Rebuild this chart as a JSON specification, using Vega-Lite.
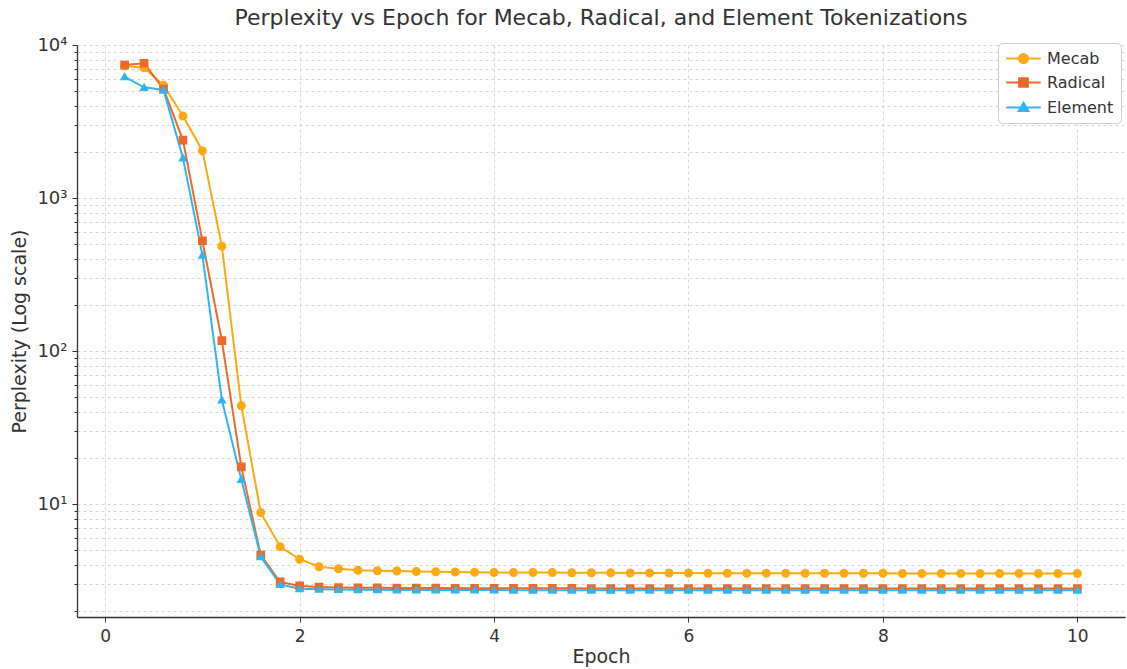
{
  "$schema": "https://vega.github.io/schema/vega-lite/v6.json",
  "width": 1048,
  "height": 572,
  "autosize": "none",
  "padding": {"left": 77, "top": 45, "right": 2, "bottom": 52},
  "background": "white",
  "title": {"text": "Perplexity vs Epoch for Mecab, Radical, and Element Tokenizations", "fontSize": 22, "font": "DejaVu Sans", "fontWeight": "normal", "color": "#333333", "anchor": "middle", "offset": 6},
  "config": {"view": {"stroke": null}, "font": "DejaVu Sans"},
  "datasets": {
    "d": [
      {"epoch": 0.2, "perplexity": 7300, "model": "Mecab"},
      {"epoch": 0.4, "perplexity": 7100, "model": "Mecab"},
      {"epoch": 0.6, "perplexity": 5450, "model": "Mecab"},
      {"epoch": 0.8, "perplexity": 3440, "model": "Mecab"},
      {"epoch": 1.0, "perplexity": 2040, "model": "Mecab"},
      {"epoch": 1.2, "perplexity": 485, "model": "Mecab"},
      {"epoch": 1.4, "perplexity": 44, "model": "Mecab"},
      {"epoch": 1.6, "perplexity": 8.8, "model": "Mecab"},
      {"epoch": 1.8, "perplexity": 5.26, "model": "Mecab"},
      {"epoch": 2.0, "perplexity": 4.37, "model": "Mecab"},
      {"epoch": 2.2, "perplexity": 3.9, "model": "Mecab"},
      {"epoch": 2.4, "perplexity": 3.78, "model": "Mecab"},
      {"epoch": 2.6, "perplexity": 3.7, "model": "Mecab"},
      {"epoch": 2.8, "perplexity": 3.67, "model": "Mecab"},
      {"epoch": 3.0, "perplexity": 3.65, "model": "Mecab"},
      {"epoch": 3.2, "perplexity": 3.63, "model": "Mecab"},
      {"epoch": 3.4, "perplexity": 3.61, "model": "Mecab"},
      {"epoch": 3.6, "perplexity": 3.6, "model": "Mecab"},
      {"epoch": 3.8, "perplexity": 3.59, "model": "Mecab"},
      {"epoch": 4.0, "perplexity": 3.58, "model": "Mecab"},
      {"epoch": 4.2, "perplexity": 3.58, "model": "Mecab"},
      {"epoch": 4.4, "perplexity": 3.57, "model": "Mecab"},
      {"epoch": 4.6, "perplexity": 3.57, "model": "Mecab"},
      {"epoch": 4.8, "perplexity": 3.56, "model": "Mecab"},
      {"epoch": 5.0, "perplexity": 3.56, "model": "Mecab"},
      {"epoch": 5.2, "perplexity": 3.56, "model": "Mecab"},
      {"epoch": 5.4, "perplexity": 3.55, "model": "Mecab"},
      {"epoch": 5.6, "perplexity": 3.55, "model": "Mecab"},
      {"epoch": 5.8, "perplexity": 3.55, "model": "Mecab"},
      {"epoch": 6.0, "perplexity": 3.55, "model": "Mecab"},
      {"epoch": 6.2, "perplexity": 3.54, "model": "Mecab"},
      {"epoch": 6.4, "perplexity": 3.54, "model": "Mecab"},
      {"epoch": 6.6, "perplexity": 3.54, "model": "Mecab"},
      {"epoch": 6.8, "perplexity": 3.54, "model": "Mecab"},
      {"epoch": 7.0, "perplexity": 3.53, "model": "Mecab"},
      {"epoch": 7.2, "perplexity": 3.53, "model": "Mecab"},
      {"epoch": 7.4, "perplexity": 3.53, "model": "Mecab"},
      {"epoch": 7.6, "perplexity": 3.53, "model": "Mecab"},
      {"epoch": 7.8, "perplexity": 3.53, "model": "Mecab"},
      {"epoch": 8.0, "perplexity": 3.53, "model": "Mecab"},
      {"epoch": 8.2, "perplexity": 3.52, "model": "Mecab"},
      {"epoch": 8.4, "perplexity": 3.52, "model": "Mecab"},
      {"epoch": 8.6, "perplexity": 3.52, "model": "Mecab"},
      {"epoch": 8.8, "perplexity": 3.52, "model": "Mecab"},
      {"epoch": 9.0, "perplexity": 3.52, "model": "Mecab"},
      {"epoch": 9.2, "perplexity": 3.52, "model": "Mecab"},
      {"epoch": 9.4, "perplexity": 3.52, "model": "Mecab"},
      {"epoch": 9.6, "perplexity": 3.52, "model": "Mecab"},
      {"epoch": 9.8, "perplexity": 3.52, "model": "Mecab"},
      {"epoch": 10.0, "perplexity": 3.52, "model": "Mecab"},
      {"epoch": 0.2, "perplexity": 7400, "model": "Radical"},
      {"epoch": 0.4, "perplexity": 7600, "model": "Radical"},
      {"epoch": 0.6, "perplexity": 5150, "model": "Radical"},
      {"epoch": 0.8, "perplexity": 2390, "model": "Radical"},
      {"epoch": 1.0, "perplexity": 526, "model": "Radical"},
      {"epoch": 1.2, "perplexity": 117, "model": "Radical"},
      {"epoch": 1.4, "perplexity": 17.5, "model": "Radical"},
      {"epoch": 1.6, "perplexity": 4.64, "model": "Radical"},
      {"epoch": 1.8, "perplexity": 3.1, "model": "Radical"},
      {"epoch": 2.0, "perplexity": 2.92, "model": "Radical"},
      {"epoch": 2.2, "perplexity": 2.87, "model": "Radical"},
      {"epoch": 2.4, "perplexity": 2.85, "model": "Radical"},
      {"epoch": 2.6, "perplexity": 2.84, "model": "Radical"},
      {"epoch": 2.8, "perplexity": 2.84, "model": "Radical"},
      {"epoch": 3.0, "perplexity": 2.83, "model": "Radical"},
      {"epoch": 3.2, "perplexity": 2.83, "model": "Radical"},
      {"epoch": 3.4, "perplexity": 2.83, "model": "Radical"},
      {"epoch": 3.6, "perplexity": 2.82, "model": "Radical"},
      {"epoch": 3.8, "perplexity": 2.82, "model": "Radical"},
      {"epoch": 4.0, "perplexity": 2.82, "model": "Radical"},
      {"epoch": 4.2, "perplexity": 2.82, "model": "Radical"},
      {"epoch": 4.4, "perplexity": 2.82, "model": "Radical"},
      {"epoch": 4.6, "perplexity": 2.82, "model": "Radical"},
      {"epoch": 4.8, "perplexity": 2.82, "model": "Radical"},
      {"epoch": 5.0, "perplexity": 2.81, "model": "Radical"},
      {"epoch": 5.2, "perplexity": 2.81, "model": "Radical"},
      {"epoch": 5.4, "perplexity": 2.81, "model": "Radical"},
      {"epoch": 5.6, "perplexity": 2.81, "model": "Radical"},
      {"epoch": 5.8, "perplexity": 2.81, "model": "Radical"},
      {"epoch": 6.0, "perplexity": 2.81, "model": "Radical"},
      {"epoch": 6.2, "perplexity": 2.81, "model": "Radical"},
      {"epoch": 6.4, "perplexity": 2.81, "model": "Radical"},
      {"epoch": 6.6, "perplexity": 2.81, "model": "Radical"},
      {"epoch": 6.8, "perplexity": 2.81, "model": "Radical"},
      {"epoch": 7.0, "perplexity": 2.81, "model": "Radical"},
      {"epoch": 7.2, "perplexity": 2.81, "model": "Radical"},
      {"epoch": 7.4, "perplexity": 2.81, "model": "Radical"},
      {"epoch": 7.6, "perplexity": 2.81, "model": "Radical"},
      {"epoch": 7.8, "perplexity": 2.81, "model": "Radical"},
      {"epoch": 8.0, "perplexity": 2.81, "model": "Radical"},
      {"epoch": 8.2, "perplexity": 2.81, "model": "Radical"},
      {"epoch": 8.4, "perplexity": 2.81, "model": "Radical"},
      {"epoch": 8.6, "perplexity": 2.81, "model": "Radical"},
      {"epoch": 8.8, "perplexity": 2.81, "model": "Radical"},
      {"epoch": 9.0, "perplexity": 2.81, "model": "Radical"},
      {"epoch": 9.2, "perplexity": 2.81, "model": "Radical"},
      {"epoch": 9.4, "perplexity": 2.81, "model": "Radical"},
      {"epoch": 9.6, "perplexity": 2.81, "model": "Radical"},
      {"epoch": 9.8, "perplexity": 2.81, "model": "Radical"},
      {"epoch": 10.0, "perplexity": 2.81, "model": "Radical"},
      {"epoch": 0.2, "perplexity": 6200, "model": "Element"},
      {"epoch": 0.4, "perplexity": 5290, "model": "Element"},
      {"epoch": 0.6, "perplexity": 5080, "model": "Element"},
      {"epoch": 0.8, "perplexity": 1830, "model": "Element"},
      {"epoch": 1.0, "perplexity": 424, "model": "Element"},
      {"epoch": 1.2, "perplexity": 48, "model": "Element"},
      {"epoch": 1.4, "perplexity": 14.5, "model": "Element"},
      {"epoch": 1.6, "perplexity": 4.53, "model": "Element"},
      {"epoch": 1.8, "perplexity": 2.99, "model": "Element"},
      {"epoch": 2.0, "perplexity": 2.8, "model": "Element"},
      {"epoch": 2.2, "perplexity": 2.78, "model": "Element"},
      {"epoch": 2.4, "perplexity": 2.77, "model": "Element"},
      {"epoch": 2.6, "perplexity": 2.76, "model": "Element"},
      {"epoch": 2.8, "perplexity": 2.76, "model": "Element"},
      {"epoch": 3.0, "perplexity": 2.75, "model": "Element"},
      {"epoch": 3.2, "perplexity": 2.75, "model": "Element"},
      {"epoch": 3.4, "perplexity": 2.75, "model": "Element"},
      {"epoch": 3.6, "perplexity": 2.75, "model": "Element"},
      {"epoch": 3.8, "perplexity": 2.75, "model": "Element"},
      {"epoch": 4.0, "perplexity": 2.75, "model": "Element"},
      {"epoch": 4.2, "perplexity": 2.74, "model": "Element"},
      {"epoch": 4.4, "perplexity": 2.74, "model": "Element"},
      {"epoch": 4.6, "perplexity": 2.74, "model": "Element"},
      {"epoch": 4.8, "perplexity": 2.74, "model": "Element"},
      {"epoch": 5.0, "perplexity": 2.74, "model": "Element"},
      {"epoch": 5.2, "perplexity": 2.74, "model": "Element"},
      {"epoch": 5.4, "perplexity": 2.74, "model": "Element"},
      {"epoch": 5.6, "perplexity": 2.74, "model": "Element"},
      {"epoch": 5.8, "perplexity": 2.74, "model": "Element"},
      {"epoch": 6.0, "perplexity": 2.74, "model": "Element"},
      {"epoch": 6.2, "perplexity": 2.74, "model": "Element"},
      {"epoch": 6.4, "perplexity": 2.74, "model": "Element"},
      {"epoch": 6.6, "perplexity": 2.74, "model": "Element"},
      {"epoch": 6.8, "perplexity": 2.74, "model": "Element"},
      {"epoch": 7.0, "perplexity": 2.74, "model": "Element"},
      {"epoch": 7.2, "perplexity": 2.74, "model": "Element"},
      {"epoch": 7.4, "perplexity": 2.74, "model": "Element"},
      {"epoch": 7.6, "perplexity": 2.74, "model": "Element"},
      {"epoch": 7.8, "perplexity": 2.74, "model": "Element"},
      {"epoch": 8.0, "perplexity": 2.74, "model": "Element"},
      {"epoch": 8.2, "perplexity": 2.74, "model": "Element"},
      {"epoch": 8.4, "perplexity": 2.74, "model": "Element"},
      {"epoch": 8.6, "perplexity": 2.74, "model": "Element"},
      {"epoch": 8.8, "perplexity": 2.74, "model": "Element"},
      {"epoch": 9.0, "perplexity": 2.74, "model": "Element"},
      {"epoch": 9.2, "perplexity": 2.74, "model": "Element"},
      {"epoch": 9.4, "perplexity": 2.74, "model": "Element"},
      {"epoch": 9.6, "perplexity": 2.74, "model": "Element"},
      {"epoch": 9.8, "perplexity": 2.74, "model": "Element"},
      {"epoch": 10.0, "perplexity": 2.74, "model": "Element"}
    ]
  },
  "data": {"name": "d"},
  "encoding": {
    "x": {
      "field": "epoch", "type": "quantitative",
      "scale": {"domain": [-0.29, 10.49], "nice": false, "zero": false},
      "axis": {
        "values": [0, 2, 4, 6, 8, 10], "title": "Epoch", "format": "d",
        "labelFontSize": 17, "labelColor": "#333333", "titleFontSize": 19, "titleFontWeight": "normal", "titleColor": "#333333",
        "domainColor": "#333333", "domainWidth": 1.3, "tickColor": "#333333", "tickSize": 5, "labelPadding": 6, "titlePadding": 3,
        "gridColor": "#cccccc", "gridDash": [3, 3], "gridWidth": 0.8
      }
    },
    "y": {
      "field": "perplexity", "type": "quantitative",
      "scale": {"type": "log", "domain": [1.83, 10000], "nice": false},
      "axis": {
        "values": [2, 3, 4, 5, 6, 7, 8, 9, 10, 20, 30, 40, 50, 60, 70, 80, 90, 100, 200, 300, 400, 500, 600, 700, 800, 900, 1000, 2000, 3000, 4000, 5000, 6000, 7000, 8000, 9000, 10000],
        "labelExpr": "datum.value == 10 ? '10¹' : datum.value == 100 ? '10²' : datum.value == 1000 ? '10³' : datum.value == 10000 ? '10⁴' : ''",
        "title": "Perplexity (Log scale)",
        "labelFontSize": 18, "labelColor": "#333333", "titleFontSize": 19, "titleFontWeight": "normal", "titleColor": "#333333",
        "domainColor": "#333333", "domainWidth": 1.3, "tickColor": "#333333",
        "tickSize": {"condition": {"test": "indexof([10, 100, 1000, 10000], datum.value) >= 0", "value": 5}, "value": 3},
        "labelPadding": 5, "titlePadding": 7, "labelOverlap": false, "labelBound": false,
        "gridColor": "#cccccc", "gridDash": [3, 3], "gridWidth": 0.8
      }
    },
    "color": {
      "field": "model", "type": "nominal",
      "scale": {"domain": ["Mecab", "Radical", "Element"], "range": ["#FCAA12", "#F06828", "#30B5F0"]},
      "legend": {
        "title": null, "orient": "none", "legendX": 921, "legendY": -2, "fillColor": "white", "strokeColor": "#cccccc", "padding": 7, "cornerRadius": 4,
        "labelFontSize": 16, "labelColor": "#333333", "symbolSize": 225, "rowPadding": 7, "symbolStrokeWidth": 2, "symbolOffset": 10, "labelOffset": 15
      }
    }
  },
  "layer": [
    {"mark": {"type": "line", "strokeWidth": 2}},
    {
      "mark": {"type": "point", "filled": true, "size": 225, "opacity": 1, "strokeWidth": 0},
      "encoding": {
        "stroke": {"field": "model", "type": "nominal", "scale": {"domain": ["Mecab", "Radical", "Element"], "range": ["#FCAA12", "#F06828", "#30B5F0"]}, "legend": {"title": null}},
        "shape": {"field": "model", "type": "nominal", "scale": {"domain": ["Mecab", "Radical", "Element"], "range": ["M-2.3,0H2.3M-0.6,0A0.6,0.6,0,1,0,0.6,0A0.6,0.6,0,1,0,-0.6,0Z", "M-2.3,0H2.3M-0.58,-0.58H0.58V0.58H-0.58Z", "M-2.3,0H2.3M0,-0.62L0.64,0.48H-0.64Z"]}, "legend": {"title": null}}
      }
    }
  ]
}
